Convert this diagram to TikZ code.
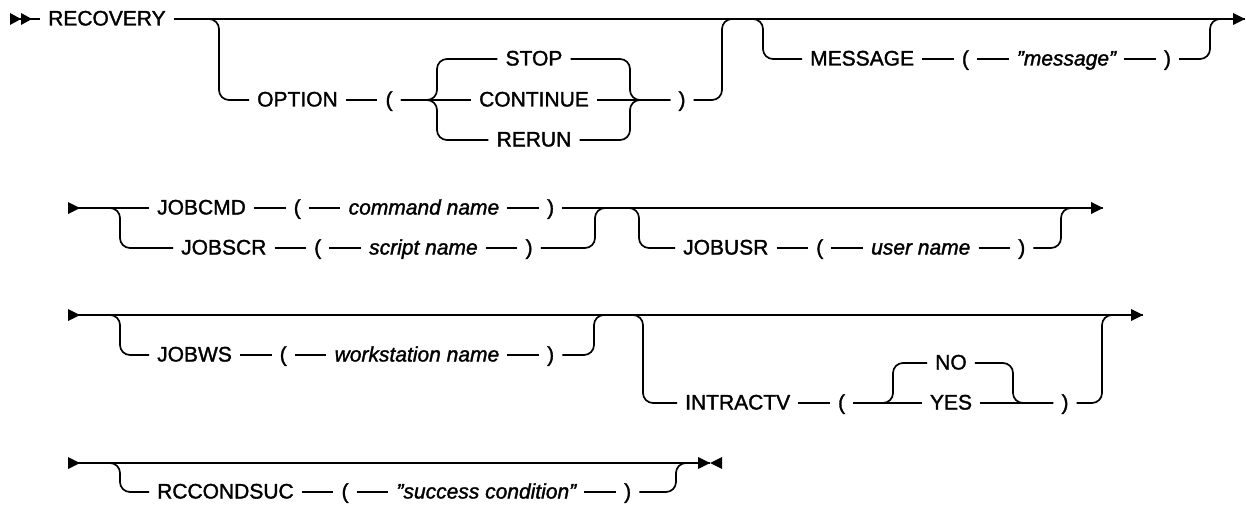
\documentclass[tikz,border=0pt]{standalone}
\usepackage{fontspec}
\setmainfont{Liberation Sans}[FakeBold=1.5, ItalicFeatures={FakeBold=1.5}]
\usetikzlibrary{positioning}
\tikzset{
  tok/.style={inner xsep=8pt, inner ysep=0pt, text height=13pt, text depth=0pt, font=\fontsize{21}{24}\selectfont},
  var/.style={tok, font=\fontsize{21}{24}\selectfont\itshape},
  rail/.style={line width=1.7pt, rounded corners=10pt},
  tipfill/.style={fill=black},
}
\newcommand{\D}{31.5pt}
\newcommand{\qq}{\symbol{34}}
\newcommand{\rtip}[1]{\fill[tipfill, shift={(#1)}] (-12,-6) -- (0,0) -- (-12,6) -- cycle;}
\newcommand{\stip}[1]{\fill[tipfill, shift={(#1)}] (0,-6) -- (12,0) -- (0,6) -- cycle;}
\begin{document}
\begin{tikzpicture}[x=1pt,y=-1pt]
\useasboundingbox (0,0) rectangle (1246,508);
\fill[white] (0,0) rectangle (1246,508);

% ---------------- Row 1 ----------------
\coordinate (s1) at (10,19);
\node[tok, anchor=west] (rec) at (40,19) {RECOVERY};
\coordinate (e1) at (1245,19);
\draw[rail] (s1) -- (rec.west);
\fill[tipfill, shift={(s1)}] (0,-6) -- (11,0) -- (0,6) -- cycle (11,-6) -- (22,0) -- (11,6) -- cycle;
\draw[rail] (rec.east) -- (e1);
\rtip{e1}

% OPTION group
\coordinate (o1) at (205,19);
\coordinate (o1d) at (219,100);
\node[tok, anchor=west] (opt) at (249,100) {OPTION};
\node[tok, right=\D of opt] (lp1) {(};
\node[tok] (stop) at (534,59) {STOP};
\node[tok] (cont) at (534,100) {CONTINUE};
\node[tok] (rerun) at (534,140) {RERUN};
\coordinate (bl) at (437,100);
\coordinate (br) at (630,100);
\node[tok] (rp1) at (682,100) {)};
\coordinate (o1u) at (722,100);
\coordinate (o1e) at (736,19);
\draw[rail] (o1) -| (o1d) -- (opt.west);
\draw[rail] (opt) -- (lp1);
\draw[rail] (lp1.east) -- (cont.west);
\draw[rail] (lp1.east) -- (bl) |- (stop.west);
\draw[rail] (lp1.east) -- (bl) |- (rerun.west);
\draw[rail] (cont.east) -- (rp1.west);
\draw[rail] (stop.east) -| (br) -- (rp1.west);
\draw[rail] (rerun.east) -| (br) -- (rp1.west);
\draw[rail] (rp1.east) -- (o1u) |- (o1e);

% MESSAGE group
\coordinate (m1) at (749,19);
\coordinate (m1d) at (763,59);
\node[tok, anchor=west] (msg) at (802,59) {MESSAGE};
\node[tok, right=\D of msg] (lp2) {(};
\node[var, right=\D of lp2] (msgv) {\qq message\qq};
\node[tok, right=\D of msgv] (rp2) {)};
\coordinate (m1u) at (1210,59);
\coordinate (m1e) at (1224,19);
\draw[rail] (m1) -| (m1d) -- (msg.west);
\foreach \a/\b in {msg/lp2, lp2/msgv, msgv/rp2} \draw[rail] (\a) -- (\b);
\draw[rail] (rp2.east) -- (m1u) |- (m1e);

% ---------------- Row 2 ----------------
\coordinate (s2) at (68,208);
\coordinate (j1) at (120,208);
\node[tok, anchor=west] (jc) at (149,208) {JOBCMD};
\node[tok, right=\D of jc] (lp3) {(};
\node[var, right=\D of lp3] (cmdn) {command name\ };
\node[tok, right=\D of cmdn] (rp3) {)};
\node[tok, anchor=west] (jsc) at (173,248) {JOBSCR};
\node[tok, right=\D of jsc] (lp4) {(};
\node[var, right=\D of lp4] (scrn) {script name};
\node[tok, right=\D of scrn] (rp4) {)};
\coordinate (j1u) at (595,248);
\coordinate (j1e) at (609,208);
\coordinate (e2) at (1103,208);
\draw[rail] (s2) -- (jc.west);
\draw[rail] (s2) -- (j1) |- (jsc.west);
\foreach \a/\b in {jc/lp3, lp3/cmdn, cmdn/rp3, jsc/lp4, lp4/scrn, scrn/rp4} \draw[rail] (\a) -- (\b);
\draw[rail] (rp4.east) -- (j1u) |- (j1e);
\draw[rail] (rp3.east) -- (e2);
\stip{s2}
\rtip{e2}

% JOBUSR group
\coordinate (u1) at (625,208);
\coordinate (u1d) at (639,248);
\node[tok, anchor=west] (ju) at (675,248) {JOBUSR};
\node[tok, right=\D of ju] (lp5) {(};
\node[var, right=\D of lp5] (usern) {user name};
\node[tok, right=\D of usern] (rp5) {)};
\coordinate (u1u) at (1061,248);
\coordinate (u1e) at (1075,208);
\draw[rail] (u1) -| (u1d) -- (ju.west);
\foreach \a/\b in {ju/lp5, lp5/usern, usern/rp5} \draw[rail] (\a) -- (\b);
\draw[rail] (rp5.east) -- (u1u) |- (u1e);

% ---------------- Row 3 ----------------
\coordinate (s3) at (68,315);
\coordinate (w1) at (120,315);
\node[tok, anchor=west] (jw) at (149,355) {JOBWS};
\node[tok, right=\D of jw] (lp6) {(};
\node[var, right=\D of lp6] (wsn) {workstation name\ };
\node[tok, right=\D of wsn] (rp6) {)};
\coordinate (w1u) at (594,355);
\coordinate (w1e) at (608,315);
\coordinate (e3) at (1143,315);
\draw[rail] (s3) -- (e3);
\draw[rail] (s3) -- (w1) |- (jw.west);
\foreach \a/\b in {jw/lp6, lp6/wsn, wsn/rp6} \draw[rail] (\a) -- (\b);
\draw[rail] (rp6.east) -- (w1u) |- (w1e);
\stip{s3}
\rtip{e3}

% INTRACTV group
\coordinate (i1) at (629,315);
\coordinate (i1d) at (643,403);
\node[tok, anchor=west] (intr) at (677,403) {INTRACTV};
\node[tok, right=\D of intr] (lp7) {(};
\node[tok] (no) at (951,363) {NO};
\node[tok] (yes) at (951,403) {YES};
\coordinate (bl2) at (893,403);
\coordinate (br2) at (1013,403);
\node[tok] (rp7) at (1065,403) {)};
\coordinate (i1u) at (1102,403);
\coordinate (i1e) at (1116,315);
\draw[rail] (i1) -| (i1d) -- (intr.west);
\draw[rail] (intr) -- (lp7);
\draw[rail] (lp7.east) -- (yes.west);
\draw[rail] (lp7.east) -- (bl2) |- (no.west);
\draw[rail] (yes.east) -- (rp7.west);
\draw[rail] (no.east) -| (br2) -- (rp7.west);
\draw[rail] (rp7.east) -- (i1u) |- (i1e);

% ---------------- Row 4 ----------------
\coordinate (s4) at (68,463);
\coordinate (r1) at (120,463);
\node[tok, anchor=west] (rc) at (149,492) {RCCONDSUC};
\node[tok, right=\D of rc] (lp8) {(};
\node[var, right=\D of lp8] (succ) {\qq success condition\qq\ };
\node[tok, right=\D of succ] (rp8) {)};
\coordinate (r1u) at (676,492);
\coordinate (r1e) at (690,463);
\coordinate (e4) at (710,463);
\draw[rail] (s4) -- (e4);
\draw[rail] (s4) -- (r1) |- (rc.west);
\foreach \a/\b in {rc/lp8, lp8/succ, succ/rp8} \draw[rail] (\a) -- (\b);
\draw[rail] (rp8.east) -- (r1u) |- (r1e);
\stip{s4}
\fill[tipfill, shift={(e4)}] (-12,-6) -- (0,0) -- (-12,6) -- cycle (12,-6) -- (0,0) -- (12,6) -- cycle;
\end{tikzpicture}
\end{document}
